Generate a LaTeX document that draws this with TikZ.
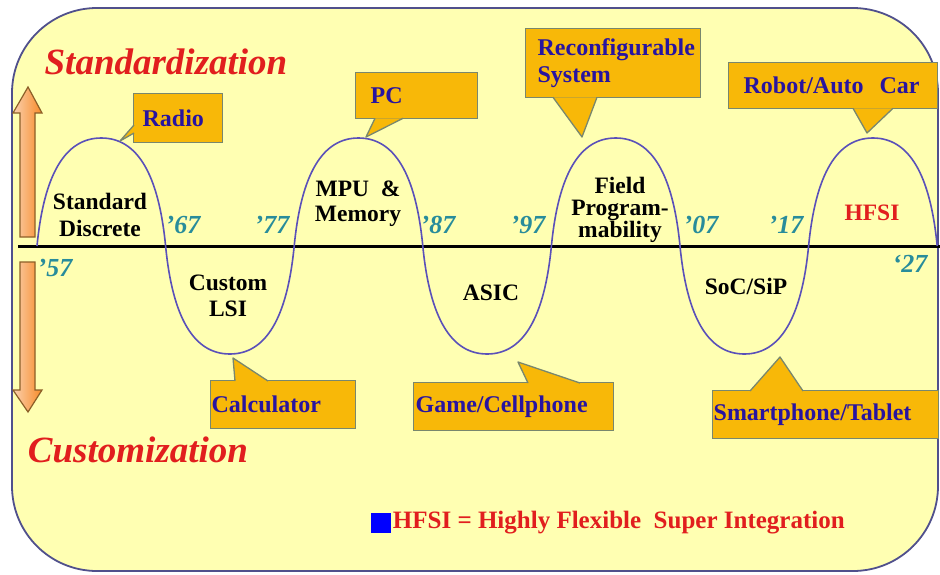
\documentclass[tikz,border=0pt]{standalone}
\usepackage{fontspec}
\setmainfont{Liberation Serif}
\usetikzlibrary{positioning}
\definecolor{bgyellow}{RGB}{255,255,178}
\definecolor{frameblue}{RGB}{80,80,140}
\definecolor{wavecol}{RGB}{90,80,185}
\definecolor{callfill}{RGB}{248,184,8}
\definecolor{callline}{RGB}{120,135,110}
\definecolor{calltext}{RGB}{40,20,160}
\definecolor{yearcol}{RGB}{40,140,155}
\definecolor{headred}{RGB}{225,30,30}
\definecolor{arrowbrown}{RGB}{140,95,40}
\definecolor{peach}{RGB}{250,208,175}
\definecolor{deeporange}{RGB}{248,140,40}

\begin{document}
\begin{tikzpicture}[x=1pt, y=-1pt,
  era/.style={font=\fontsize{23.5}{25}\selectfont\bfseries, align=center, inner sep=0pt},
  year/.style={font=\fontsize{26}{28}\selectfont\bfseries\itshape, text=yearcol, inner sep=0pt},
  callbox/.style={draw=callline, line width=1.3pt, fill=callfill, text=calltext, anchor=north west,
    font=\fontsize{24}{27}\selectfont\bfseries, align=left, inner ysep=0pt},
  tail/.style={draw=callline, line width=1.3pt, fill=callfill, line join=round},
  side/.style={draw=arrowbrown, line width=1.2pt, left color=peach, right color=deeporange},
  heading/.style={font=\fontsize{37}{40}\selectfont\bfseries\itshape, text=headred, inner sep=0pt}]
\useasboundingbox (0,0) rectangle (940,574);
\draw[frameblue, line width=1.8pt, fill=bgyellow, rounded corners=85pt] (12,8) rectangle (938,571);

% time axis and the swinging curve
\coordinate (ax0) at (18,246);
\coordinate (ax1) at (940,246);
\draw[line width=3pt] (ax0) -- (ax1);
\draw[wavecol, line width=1.6pt] (37,246)
  \foreach \s in {1,-1,1,-1,1,-1,1} {
    .. controls +(7,-72*\s) and +(-36,0) .. ++(64.3,-108*\s)
    .. controls +(36,0) and +(-7,-72*\s) .. ++(64.3,108*\s) };

% up / down arrows at the left
\draw[side] (20,237) -- (20,113) -- (13,113) -- (28,87) -- (42,113) -- (35,113) -- (35,237) -- cycle;
\draw[side] (20,262) -- (20,390) -- (13,390) -- (28,412) -- (42,390) -- (35,390) -- (35,262) -- cycle;

\node[heading] (std) at (166,62) {Standardization};
\node[heading] (cust) at (138,450) {Customization};

% eras
\node[era] (discrete) at (100,215) {Standard\\[2pt]Discrete};
\node[era] (lsi) at (228,296) {Custom\\[1pt]LSI};
\node[era] (mpu) at (358,204) {MPU\ \ \&\\Memory};
\node[era] (asic) at (491,293) {ASIC};
\node[era, font=\fontsize{23.5}{22}\selectfont\bfseries] (field) at (620,210) {Field\\Program-\\mability};
\node[era] (soc) at (746,286) {SoC/SiP};
\node[era, text=headred] (hfsi) at (872,213) {HFSI};

% years
\node[year] (y57) at (55,268) {’57};
\node[year] (y67) at (183,225) {’67};
\node[year] (y77) at (272,225) {’77};
\node[year] (y87) at (438,225) {’87};
\node[year] (y97) at (528,225) {’97};
\node[year] (y07) at (701,225) {’07};
\node[year] (y17) at (786,225) {’17};
\node[year] (y27) at (910,264) {‘27};

% callouts
\coordinate (radiotip) at (120,141);
\coordinate (pctip) at (366,137);
\coordinate (conftip) at (582,137);
\coordinate (robottip) at (867,133);
\coordinate (calctip) at (233,358);
\coordinate (gametip) at (518,362);
\coordinate (phonetip) at (780,357);

\node[callbox, inner xsep=9pt, text width=71pt, minimum height=49pt] (radio) at (133,93) {Radio};
\node[callbox, inner xsep=15pt, text width=92pt, minimum height=46pt] (pc) at (355,72) {PC};
\node[callbox, inner xsep=12pt, text width=151pt, minimum height=69pt] (conf) at (525,28) {Reconfigurable\\System};
\node[callbox, inner xsep=15pt, text width=179pt, minimum height=46pt] (robot) at (728,62) {Robot/Auto\ \ Car};
\node[callbox, inner xsep=1pt, text width=143pt, minimum height=48pt] (calc) at (210,380) {Calculator};
\node[callbox, inner xsep=2pt, text width=196pt, minimum height=48pt] (game) at (413,382) {Game/Cellphone};
\node[callbox, inner xsep=1pt, text width=224pt, minimum height=48pt] (phone) at (712,390) {Smartphone/Tablet};

\filldraw[tail] ([xshift=1pt, yshift=-32pt]radio.north west) -- (radiotip) -- ([xshift=1pt, yshift=-40pt]radio.north west);
\filldraw[tail] ([xshift=20pt, yshift=1pt]pc.south west) -- (pctip) -- ([xshift=48pt, yshift=1pt]pc.south west);
\filldraw[tail] ([xshift=28pt, yshift=1pt]conf.south west) -- (conftip) -- ([xshift=72pt, yshift=1pt]conf.south west);
\filldraw[tail] ([xshift=125pt, yshift=1pt]robot.south west) -- (robottip) -- ([xshift=165pt, yshift=1pt]robot.south west);
\filldraw[tail] ([xshift=25pt, yshift=-1pt]calc.north west) -- (calctip) -- ([xshift=58pt, yshift=-1pt]calc.north west);
\filldraw[tail] ([xshift=115pt, yshift=-1pt]game.north west) -- (gametip) -- ([xshift=167pt, yshift=-1pt]game.north west);
\filldraw[tail] ([xshift=38pt, yshift=-1pt]phone.north west) -- (phonetip) -- ([xshift=91pt, yshift=-1pt]phone.north west);

% legend
\node[fill=blue, minimum size=20pt, inner sep=0pt] (key) at (380.5,523) {};
\node[right=2pt of key, inner sep=0pt, text=headred, font=\fontsize{25}{27}\selectfont\bfseries] (keytext) {HFSI = Highly Flexible\ \ Super Integration};
\end{tikzpicture}
\end{document}
